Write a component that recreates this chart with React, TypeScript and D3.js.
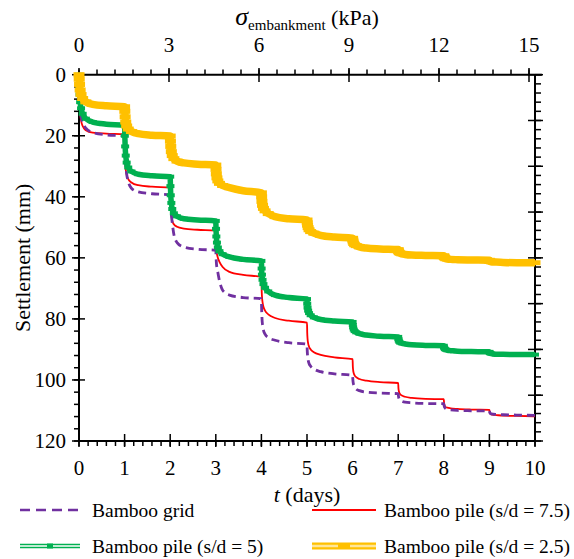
import React from "react";
import * as d3 from "d3";

const W = 574;
const H = 559;

// time of each loading stage start (days)
const DAY_STARTS = [0, 1, 2, 3, 4, 5, 6, 7, 8, 9];
// sampling offsets within each stage (days after load step)
const OFFSETS = [0.005, 0.012, 0.025, 0.045, 0.08, 0.15, 0.3, 0.6, 1.0];

// settlement (mm) readings per stage at the offsets above
const BAMBOO_GRID = [
  [4, 7.6, 11, 13.6, 15.6, 17.5, 18.9, 19.7, 20.1],
  [23, 26, 29.5, 32.5, 35, 37.2, 38.4, 39, 39.4],
  [41.5, 43.5, 45.8, 48.5, 52.3, 55, 56.5, 57.2, 57.5],
  [59.5, 61.5, 63.3, 64.8, 67.5, 70.6, 72.2, 73, 73.4],
  [76.5, 79.5, 82, 83.7, 85, 86.1, 87, 87.8, 88.3],
  [90.3, 92, 93.5, 94.6, 95.5, 96.4, 97.3, 98, 98.5],
  [99.7, 100.8, 101.7, 102.4, 103, 103.5, 104, 104.3, 104.5],
  [105.2, 105.8, 106.3, 106.7, 107, 107.3, 107.5, 107.7, 107.8],
  [108.3, 108.7, 109.1, 109.4, 109.6, 109.8, 110, 110.1, 110.2],
  [110.5, 110.8, 111, 111.1, 111.2, 111.3, 111.4, 111.5, 111.6],
];
const PILE_SD75 = [
  [5, 9, 12.5, 15, 16.8, 18.2, 19, 19.3, 19.5],
  [24.5, 28, 31, 32.8, 34.2, 35.3, 36.2, 36.7, 37],
  [41.5, 43.5, 45.8, 47.8, 49, 49.8, 50.4, 50.8, 51.1],
  [55, 57.5, 58.8, 60, 61.3, 63, 64.6, 65.6, 66.2],
  [70, 72.5, 74.5, 76, 77.3, 78.5, 79.7, 80.6, 81.2],
  [84.5, 86.5, 88, 89.1, 90, 90.9, 91.8, 92.6, 93.2],
  [95.5, 96.8, 97.8, 98.5, 99.1, 99.7, 100.2, 100.7, 101],
  [102.6, 103.5, 104.2, 104.7, 105.1, 105.5, 105.9, 106.2, 106.3],
  [107.3, 108, 108.6, 108.9, 109.1, 109.3, 109.5, 109.7, 109.8],
  [110.4, 110.8, 111.1, 111.3, 111.4, 111.5, 111.7, 111.8, 111.9],
];
const PILE_SD5 = [
  [3.5, 6.5, 9, 11, 12.8, 14.4, 15.5, 16.2, 16.6],
  [20, 23.5, 26.5, 28.8, 30.4, 31.7, 32.6, 33.1, 33.4],
  [36.5, 39.5, 42, 44, 45.4, 46.4, 47.2, 47.6, 47.9],
  [50.5, 53, 55, 56.6, 57.8, 58.8, 59.7, 60.5, 61],
  [63.5, 65.5, 67.2, 68.6, 69.8, 71, 72.2, 73, 73.5],
  [75, 76.3, 77.3, 78.1, 78.8, 79.5, 80.2, 80.7, 81],
  [82, 82.8, 83.5, 84, 84.4, 84.8, 85.3, 85.7, 85.9],
  [86.6, 87.1, 87.5, 87.8, 88, 88.2, 88.5, 88.7, 88.8],
  [89.3, 89.6, 89.9, 90.1, 90.3, 90.4, 90.6, 90.7, 90.8],
  [91, 91.2, 91.3, 91.4, 91.5, 91.6, 91.6, 91.7, 91.7],
];
const PILE_SD25 = [
  [1.5, 3.2, 5, 6.5, 7.8, 8.9, 9.7, 10.2, 10.5],
  [12, 13.8, 15.5, 16.8, 17.8, 18.6, 19.3, 19.8, 20.1],
  [21.8, 23.5, 25.2, 26.5, 27.5, 28.3, 28.9, 29.3, 29.6],
  [31, 32.5, 33.8, 34.8, 35.6, 36.3, 37, 38, 38.7],
  [40, 41.5, 42.8, 43.8, 44.6, 45.5, 46.5, 47.2, 47.6],
  [48.5, 49.3, 50.1, 50.8, 51.4, 51.9, 52.6, 53.2, 53.6],
  [54.2, 54.8, 55.3, 55.7, 56, 56.4, 56.8, 57.1, 57.3],
  [57.7, 58, 58.3, 58.5, 58.7, 58.9, 59.1, 59.2, 59.3],
  [59.6, 59.9, 60.1, 60.3, 60.4, 60.5, 60.6, 60.7, 60.8],
  [61, 61.1, 61.2, 61.3, 61.4, 61.4, 61.5, 61.6, 61.6],
];

const X_TICKS = [0, 1, 2, 3, 4, 5, 6, 7, 8, 9, 10];
const Y_TICKS = [0, 20, 40, 60, 80, 100, 120];
const TOP_TICKS = [0, 3, 6, 9, 12, 15];
const RIGHT_MAJOR = [0, 15, 30, 45, 60, 75, 90, 105, 120];

const LEGEND_LABELS = [
  "Bamboo grid",
  "Bamboo pile (s/d = 7.5)",
  "Bamboo pile (s/d = 5)",
  "Bamboo pile (s/d = 2.5)",
];

const FONT = "Liberation Serif, Times New Roman, serif";
const PURPLE = "#7030A0";
const RED = "#FF0000";
const GREEN = "#00B050";
const YELLOW = "#FFC000";

function toPoints(days: number[][]): [number, number][] {
  const pts: [number, number][] = [[0, 0]];
  days.forEach((vals, i) =>
    vals.forEach((v, j) => pts.push([DAY_STARTS[i] + OFFSETS[j], v]))
  );
  return pts;
}

export default function App() {
  const x = d3.scaleLinear().domain([0, 10]).range([79, 535]);
  const y = d3.scaleLinear().domain([0, 120]).range([74.7, 441]);
  const xTop = d3.scaleLinear().domain([0, 15]).range([79, 529]);
  const topEnd = 542;

  const line = d3
    .line<[number, number]>()
    .x((d) => x(d[0]))
    .y((d) => y(d[1]))
    .curve(d3.curveMonotoneX);

  const grid = toPoints(BAMBOO_GRID);
  const p75 = toPoints(PILE_SD75);
  const p5 = toPoints(PILE_SD5);
  const p25 = toPoints(PILE_SD25);

  const xMinor = d3.range(0, 10.001, 0.2);
  const yMinor = d3.range(0, 120.001, 4);
  const topMinor = d3.range(0, 15.001, 0.6);
  const rightMinor = d3.range(0, 120.001, 3);

  const axisW = 2;
  const tickW = 1.5;

  return (
    <svg
      width={W}
      height={H}
      style={{ position: "absolute", left: 0, top: 0, background: "#fff", fontFamily: FONT }}
    >
      <rect x={0} y={0} width={W} height={H} fill="#fff" />

      {/* bottom axis */}
      <line x1={79} x2={535} y1={441} y2={441} stroke="#000" strokeWidth={axisW} />
      {xMinor.map((t, i) => (
        <line key={"bm" + i} x1={x(t)} x2={x(t)} y1={441} y2={446} stroke="#000" strokeWidth={tickW} />
      ))}
      {X_TICKS.map((t) => (
        <g key={"bx" + t}>
          <line x1={x(t)} x2={x(t)} y1={434} y2={447} stroke="#000" strokeWidth={tickW} />
          <text x={x(t)} y={468} dy="0.35em" textAnchor="middle" fontSize={21}>
            {t}
          </text>
        </g>
      ))}
      <text x={307} y={494} dy="0.35em" textAnchor="middle" fontSize={22}>
        <tspan fontStyle="italic">t</tspan> (days)
      </text>

      {/* left axis */}
      <line x1={79} x2={79} y1={74.7} y2={441} stroke="#000" strokeWidth={axisW} />
      {yMinor.map((v, i) => (
        <line key={"lm" + i} x1={74} x2={79} y1={y(v)} y2={y(v)} stroke="#000" strokeWidth={tickW} />
      ))}
      {Y_TICKS.map((v) => (
        <g key={"ly" + v}>
          <line x1={72} x2={85} y1={y(v)} y2={y(v)} stroke="#000" strokeWidth={tickW} />
          <text x={66} y={y(v)} dy="0.35em" textAnchor="end" fontSize={21}>
            {v}
          </text>
        </g>
      ))}
      <text
        transform={`translate(22,${(74.7 + 441) / 2}) rotate(-90)`}
        dy="0.35em"
        textAnchor="middle"
        fontSize={22}
      >
        Settlement (mm)
      </text>

      {/* right axis */}
      <line x1={535} x2={535} y1={74.7} y2={441} stroke="#000" strokeWidth={axisW} />
      {rightMinor.map((v, i) => (
        <line key={"rm" + i} x1={535} x2={541} y1={y(v)} y2={y(v)} stroke="#000" strokeWidth={tickW} />
      ))}
      {RIGHT_MAJOR.map((v) => (
        <line key={"rM" + v} x1={528} x2={543} y1={y(v)} y2={y(v)} stroke="#000" strokeWidth={tickW} />
      ))}

      {/* top axis */}
      <line x1={79} x2={topEnd} y1={74.7} y2={74.7} stroke="#000" strokeWidth={axisW} />
      {topMinor.map((v, i) => (
        <line key={"tm" + i} x1={xTop(v)} x2={xTop(v)} y1={69.5} y2={74.7} stroke="#000" strokeWidth={tickW} />
      ))}
      {TOP_TICKS.map((v) => (
        <g key={"tt" + v}>
          <line x1={xTop(v)} x2={xTop(v)} y1={68} y2={82} stroke="#000" strokeWidth={tickW} />
          <text x={xTop(v)} y={45} dy="0.35em" textAnchor="middle" fontSize={21}>
            {v}
          </text>
        </g>
      ))}
      <text x={307} y={25} textAnchor="middle" fontSize={22}>
        <tspan fontStyle="italic" fontSize={26}>σ</tspan>
        <tspan dy={5} fontSize={15}>embankment</tspan>
        <tspan dy={-5}> (kPa)</tspan>
      </text>

      {/* series */}
      <path d={line(p75) ?? ""} fill="none" stroke={RED} strokeWidth={1.8} />
      <path d={line(grid) ?? ""} fill="none" stroke={PURPLE} strokeWidth={2.8} strokeDasharray="8,5" />
      <path d={line(p5) ?? ""} fill="none" stroke={GREEN} strokeWidth={5.5} />
      {p5.map((p, i) => (
        <rect key={"g" + i} x={x(p[0]) - 4} y={y(p[1]) - 2} width={8} height={4} fill={GREEN} />
      ))}
      <path d={line(p25) ?? ""} fill="none" stroke={YELLOW} strokeWidth={7.5} />
      {p25.map((p, i) => (
        <rect key={"y" + i} x={x(p[0]) - 5.5} y={y(p[1]) - 2.5} width={11} height={5} fill={YELLOW} />
      ))}

      {/* legend */}
      <g fontSize={19.5}>
        <line x1={20} x2={80} y1={510} y2={510} stroke={PURPLE} strokeWidth={2.6} strokeDasharray="10,6" />
        <text x={92} y={510} dy="0.35em">{LEGEND_LABELS[0]}</text>

        <line x1={312} x2={376} y1={510} y2={510} stroke={RED} strokeWidth={2} />
        <text x={384} y={510} dy="0.35em">{LEGEND_LABELS[1]}</text>

        <line x1={20} x2={80} y1={546} y2={546} stroke={GREEN} strokeWidth={4.5} />
        <line x1={20} x2={80} y1={546} y2={546} stroke="#fff" strokeWidth={1.5} />
        <rect x={47} y={543.5} width={6} height={5} fill={GREEN} />
        <text x={92} y={546} dy="0.35em">{LEGEND_LABELS[2]}</text>

        <line x1={312} x2={376} y1={546} y2={546} stroke={YELLOW} strokeWidth={7} />
        <line x1={312} x2={376} y1={546} y2={546} stroke="#FFE699" strokeWidth={2.5} />
        <rect x={338} y={543} width={12} height={6} fill={YELLOW} />
        <text x={384} y={546} dy="0.35em">{LEGEND_LABELS[3]}</text>
      </g>
    </svg>
  );
}
